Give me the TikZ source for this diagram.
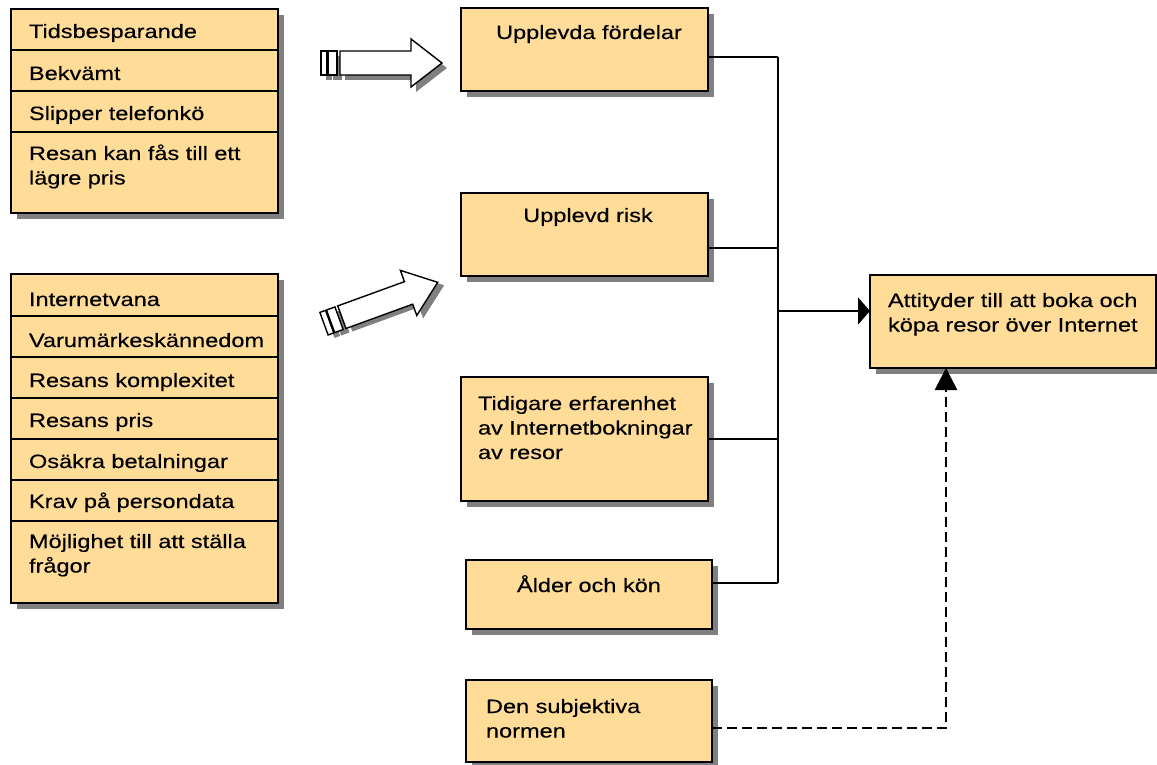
\documentclass[tikz,border=0pt]{standalone}
\usepackage{fontspec}
\setmainfont[FakeStretch=1.22, FakeBold=0.35]{Liberation Sans}
\usetikzlibrary{arrows.meta,shadows}
\definecolor{boxfill}{RGB}{255,221,153}
\definecolor{shadowgray}{RGB}{128,128,128}
\tikzset{
  box/.style={draw=black, line width=1.5pt, fill=boxfill, rectangle, inner sep=0pt, outer sep=0pt,
    anchor=north west,
    general shadow={fill=shadowgray, shadow xshift=6pt, shadow yshift=-6pt}},
  txt/.style={anchor=base west, inner sep=0pt, outer sep=0pt},
  ctxt/.style={anchor=base, inner sep=0pt, outer sep=0pt},
  mtxt/.style={txt, align=left, text width=#1},
  divider/.style={line width=1.2pt},
  conn/.style={line width=1.4pt},
  dashconn/.style={line width=2.8pt, dash pattern=on 10pt off 5pt},
  pics/blockarrow/.style={code={
    \begin{scope}[shift={(5,5)}]
      \fill[shadowgray] (0,-12) rectangle (6,12);
      \fill[shadowgray] (7,-12) rectangle (16,12);
      \fill[shadowgray] (19,-12) -- (90,-12) -- (90,-24) -- (121,0) -- (90,24) -- (90,12) -- (19,12) -- cycle;
    \end{scope}
    \filldraw[fill=white, draw=black, line width=1.4pt] (0,-12) rectangle (6,12);
    \filldraw[fill=white, draw=black, line width=1.4pt] (7,-12) rectangle (16,12);
    \filldraw[fill=white, draw=black, line width=1.4pt, line join=miter]
      (19,-12) -- (90,-12) -- (90,-24) -- (121,0) -- (90,24) -- (90,12) -- (19,12) -- cycle;
  }}
}
\begin{document}
\begin{tikzpicture}[x=1pt, y=-1pt, font=\fontsize{19.3}{24.5}\selectfont]
\useasboundingbox (0,0) rectangle (1157,765);
\clip (0,0) rectangle (1157,765);

% left box 1
\node[box, minimum width=267pt, minimum height=204pt] (lb1) at (11,9) {};
\draw[divider] (lb1.west |- 0,50) -- (lb1.east |- 0,50);
\draw[divider] (lb1.west |- 0,91) -- (lb1.east |- 0,91);
\draw[divider] (lb1.west |- 0,132) -- (lb1.east |- 0,132);
\node[txt] (t1) at (29,38) {Tidsbesparande};
\node[txt] (t2) at (29,80) {Bekvämt};
\node[txt] (t3) at (29,120) {Slipper telefonkö};
\node[mtxt=245pt] (t4) at (29,160) {Resan kan fås till ett\\lägre pris};

% left box 2
\node[box, minimum width=267pt, minimum height=329pt] (lb2) at (11,274) {};
\foreach \yy in {316,357,398,439,480,521}
  \draw[divider] (lb2.west |- 0,\yy) -- (lb2.east |- 0,\yy);
\node[txt] (s1) at (29,306) {Internetvana};
\node[txt] (s2) at (29,347) {Varumärkeskännedom};
\node[txt] (s3) at (29,387) {Resans komplexitet};
\node[txt] (s4) at (29,427) {Resans pris};
\node[txt] (s5) at (29,468) {Osäkra betalningar};
\node[txt] (s6) at (29,508) {Krav på persondata};
\node[mtxt=245pt] (s7) at (29,548) {Möjlighet till att ställa\\frågor};

% block arrows
\pic at (321,63) {blockarrow};
\pic[rotate=20] at (324,323.7) {blockarrow};

% middle boxes
\node[box, minimum width=247pt, minimum height=83pt] (upp) at (461,8) {};
\node[ctxt] (uppt) at (589,39) {Upplevda fördelar};
\node[box, minimum width=247pt, minimum height=83pt] (risk) at (461,193) {};
\node[ctxt] (riskt) at (588,222) {Upplevd risk};
\node[box, minimum width=247pt, minimum height=124pt] (tid) at (461,377) {};
\node[mtxt=225pt] (tidt) at (478,410) {Tidigare erfarenhet\\av Internetbokningar\\av resor};
\node[box, minimum width=246pt, minimum height=69pt] (alder) at (466,560) {};
\node[ctxt] (aldert) at (589,592) {Ålder och kön};
\node[box, minimum width=246pt, minimum height=82pt] (den) at (466,680) {};
\node[mtxt=220pt] (dent) at (486,713) {Den subjektiva\\normen};

% target box
\node[box, minimum width=286pt, minimum height=93pt] (att) at (870,275) {};
\node[mtxt=270pt] (attt) at (888,307) {Attityder till att boka och\\köpa resor över Internet};

% connectors
\coordinate (bus1) at (778,57);
\coordinate (bus2) at (778,248);
\coordinate (bus3) at (778,439);
\coordinate (bus4) at (778,583);
\coordinate (busm) at (778,311);
\coordinate (dc) at (946,728);
\draw[conn] (upp.east |- bus1) -- (bus1);
\draw[conn] (risk.east |- bus2) -- (bus2);
\draw[conn] (tid.east |- bus3) -- (bus3);
\draw[conn] (alder.east |- bus4) -- (bus4);
\draw[conn] (bus1) -- (bus4);
\draw[conn, -{Triangle[width=27pt, length=12pt]}] (busm) -- (att.west |- busm);
\draw[dashconn, -{Triangle[width=22pt, length=22pt]}] (den.east |- dc) -- (dc) -- (att.south -| dc);
\end{tikzpicture}
\end{document}
